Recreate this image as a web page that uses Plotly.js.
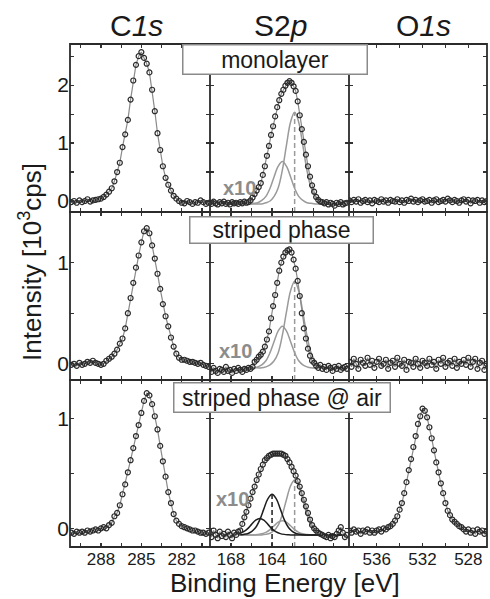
<!DOCTYPE html>
<html><head><meta charset="utf-8">
<script src="https://cdn.plot.ly/plotly-3.0.1.min.js"></script>
<style>html,body{margin:0;padding:0;background:#fff;}#chart{width:490px;height:599px;}</style>
</head><body><div id="chart"></div>
<script>
// ---------- DATA ----------
const c1sEnergy = [290.2,290.0,289.8,289.6,289.4,289.2,289.0,288.8,288.6,288.4,
  288.2,288.0,287.8,287.6,287.4,287.2,287.0,286.8,286.6,286.4,
  286.2,286.0,285.8,285.6,285.4,285.2,285.0,284.8,284.6,284.4,
  284.2,284.0,283.8,283.6,283.4,283.2,283.0,282.8,282.6,282.4,
  282.2,282.0,281.8,281.6,281.4,281.2,281.0,280.8,280.6,280.4,
  280.2,280.0];
const s2pEnergy = [170.1,169.9,169.7,169.5,169.3,169.1,168.9,168.7,168.5,168.3,
  168.1,167.9,167.7,167.5,167.3,167.1,166.9,166.7,166.5,166.3,
  166.1,165.9,165.7,165.5,165.3,165.1,164.9,164.7,164.5,164.3,
  164.1,163.9,163.7,163.5,163.3,163.1,162.9,162.7,162.5,162.3,
  162.1,161.9,161.7,161.5,161.3,161.1,160.9,160.7,160.5,160.3,
  160.1,159.9,159.7,159.5,159.3,159.1,158.9,158.7,158.5,158.3,
  158.1,157.9,157.7,157.5,157.3,157.1,156.9,156.7];
const o1sEnergy = [538.4,538.2,538.0,537.8,537.6,537.4,537.2,537.0,536.8,536.6,
  536.4,536.2,536.0,535.8,535.6,535.4,535.2,535.0,534.8,534.6,
  534.4,534.2,534.0,533.8,533.6,533.4,533.2,533.0,532.8,532.6,
  532.4,532.2,532.0,531.8,531.6,531.4,531.2,531.0,530.8,530.6,
  530.4,530.2,530.0,529.8,529.6,529.4,529.2,529.0,528.8,528.6,
  528.4,528.2,528.0,527.8,527.6,527.4,527.2,527.0,526.8,526.6,
  526.4];

// C1s intensities [10^3 cps]
const c1sMonolayer = [-0.02,0.00,-0.03,0.01,-0.02,0.00,0.03,-0.01,0.01,0.02,
  0.03,0.04,0.07,0.11,0.16,0.22,0.34,0.50,0.66,0.93,
  1.15,1.40,1.75,2.08,2.35,2.50,2.57,2.47,2.37,2.22,
  1.92,1.55,1.17,0.88,0.60,0.40,0.28,0.18,0.09,0.04,
  0.00,-0.03,-0.04,0.00,-0.02,-0.05,-0.02,-0.03,0.01,-0.02,
  -0.05,-0.03];
const c1sStriped = [-0.01,0.00,-0.02,0.01,-0.01,0.00,0.02,0.01,0.03,0.01,
  0.00,-0.01,0.00,0.03,0.05,0.07,0.10,0.14,0.20,0.25,
  0.35,0.50,0.65,0.80,0.95,1.07,1.20,1.31,1.34,1.29,
  1.17,1.04,0.89,0.74,0.59,0.47,0.37,0.26,0.17,0.10,
  0.06,0.04,0.04,0.03,0.02,0.02,0.01,0.00,0.01,-0.01,
  -0.02,-0.03];
const c1sAir = [-0.04,-0.05,-0.03,-0.04,-0.03,-0.04,-0.02,-0.03,-0.02,-0.01,
  -0.02,0.00,0.01,0.00,0.03,0.05,0.11,0.14,0.21,0.31,
  0.40,0.51,0.62,0.73,0.84,0.94,1.05,1.16,1.23,1.21,
  1.13,1.02,0.90,0.75,0.61,0.47,0.33,0.23,0.13,0.07,
  0.04,0.02,0.01,0.00,-0.01,-0.02,-0.02,-0.03,-0.04,-0.04,
  -0.05,-0.04];

// S2p intensities (shown x10)
const s2pMonolayer = [-0.03,-0.05,-0.01,-0.04,-0.06,-0.02,-0.04,-0.01,-0.05,-0.03,
  -0.06,-0.02,-0.04,-0.03,-0.05,-0.02,-0.04,-0.01,-0.03,-0.02,
  0.01,0.06,0.12,0.18,0.24,0.31,0.45,0.60,0.78,0.95,
  1.14,1.29,1.46,1.62,1.74,1.85,1.92,1.99,2.04,2.07,
  2.04,1.98,1.90,1.72,1.48,1.24,1.02,0.80,0.60,0.42,
  0.27,0.16,0.07,0.02,-0.01,-0.02,-0.04,-0.02,-0.06,-0.03,
  -0.05,-0.08,-0.03,-0.05,-0.02,-0.06,-0.04,-0.03];
const s2pStriped = [-0.05,-0.08,-0.04,-0.07,-0.09,-0.05,-0.06,-0.08,-0.03,-0.07,
  -0.06,-0.09,-0.05,-0.07,-0.04,-0.06,-0.08,-0.05,-0.06,-0.04,
  -0.05,-0.03,0.02,0.04,0.07,0.09,0.12,0.17,0.24,0.32,
  0.45,0.57,0.68,0.80,0.92,1.00,1.06,1.10,1.12,1.13,
  1.10,1.03,0.94,0.82,0.67,0.50,0.35,0.25,0.15,0.08,
  0.03,0.01,-0.02,-0.04,-0.01,-0.05,-0.03,-0.06,-0.02,-0.04,
  -0.07,-0.03,-0.05,-0.02,-0.06,-0.04,-0.03,-0.05];
const s2pAir = [-0.04,-0.08,-0.02,-0.06,-0.09,-0.03,-0.07,-0.05,-0.08,-0.03,
  -0.06,-0.09,-0.04,-0.06,-0.03,-0.02,0.04,0.10,0.15,0.21,
  0.27,0.33,0.38,0.44,0.49,0.54,0.58,0.62,0.64,0.66,
  0.67,0.68,0.68,0.68,0.68,0.68,0.67,0.66,0.63,0.60,
  0.56,0.52,0.48,0.43,0.38,0.32,0.26,0.20,0.14,0.08,
  0.03,0.00,-0.02,-0.04,-0.05,-0.06,-0.07,-0.08,-0.06,-0.09,
  -0.07,-0.08,-0.05,-0.02,0.01,-0.04,-0.08,-0.06];

// O1s intensities
const o1sMonolayer = [0.01,-0.02,0.02,-0.01,0.03,-0.03,0.00,0.02,-0.02,0.01,
  -0.04,0.02,0.00,-0.02,0.03,-0.01,0.01,-0.03,0.02,0.00,
  -0.01,0.03,-0.02,0.01,-0.03,0.02,0.00,0.04,-0.01,0.02,
  -0.02,0.01,0.03,-0.01,0.00,0.02,-0.03,0.01,0.03,-0.02,
  0.00,0.02,-0.01,0.04,0.01,-0.02,0.02,0.00,-0.03,0.01,
  0.03,-0.01,0.02,-0.04,0.01,0.00,0.02,-0.03,0.01,-0.02,
  0.00];
const o1sStriped = [0.02,-0.03,0.05,0.00,-0.05,0.04,0.01,-0.02,0.06,-0.01,
  0.03,-0.04,0.02,0.05,-0.02,0.00,0.04,-0.05,0.01,0.03,
  -0.03,0.06,0.00,-0.02,0.04,-0.06,0.02,0.01,-0.03,0.05,
  0.00,-0.04,0.03,0.01,-0.02,0.05,-0.01,0.02,-0.05,0.04,
  0.00,0.06,-0.03,0.01,0.03,-0.02,0.05,-0.04,0.02,0.00,
  0.04,-0.01,0.06,-0.03,0.02,0.05,-0.05,0.01,0.03,-0.06,
  0.00];
const o1sAir = [-0.02,-0.04,-0.01,-0.03,-0.02,-0.05,-0.02,-0.03,-0.01,-0.04,
  -0.02,-0.04,-0.02,-0.01,-0.03,0.00,-0.01,0.01,0.02,0.04,
  0.07,0.11,0.17,0.23,0.32,0.42,0.53,0.63,0.74,0.84,
  0.95,1.02,1.09,1.07,1.01,0.92,0.82,0.71,0.60,0.51,
  0.41,0.32,0.23,0.16,0.12,0.08,0.06,0.04,0.02,0.01,
  -0.01,-0.03,-0.01,-0.04,-0.02,-0.05,-0.01,-0.03,-0.02,-0.05,
  -0.03];

// S2p fit components
const compEnergyA = [167.0,166.6,166.2,165.8,165.4,165.0,164.6,164.2,163.8,163.4,
  163.0,162.6,162.2,161.8,161.4,161.0,160.6,160.2,159.8,159.4,
  159.0,158.6,158.2,157.8,157.4,157.0];
const compEnergyB = [167.2,166.8,166.4,166.0,165.6,165.2,164.8,164.4,164.0,163.6,
  163.2,162.8,162.4,162.0,161.6,161.2,160.8,160.4,160.0,159.6,
  159.2,158.8,158.4,158.0,157.6,157.2];
const monoS32 = [-0.05,-0.05,-0.05,-0.05,-0.05,-0.05,-0.03,0.00,0.08,0.23,
  0.53,0.96,1.36,1.53,1.36,0.96,0.53,0.23,0.08,0.00,
  -0.03,-0.05,-0.05,-0.05,-0.05,-0.05];
const monoS12 = [-0.05,-0.05,-0.05,-0.04,-0.03,0.01,0.08,0.22,0.42,0.60,
  0.68,0.60,0.42,0.22,0.08,0.01,-0.03,-0.04,-0.05,-0.05,
  -0.05,-0.05,-0.05,-0.05,-0.05,-0.05];
const stripedS32 = [-0.04,-0.04,-0.04,-0.04,-0.04,-0.04,-0.03,-0.01,0.03,0.11,
  0.28,0.51,0.72,0.815,0.72,0.51,0.28,0.11,0.03,-0.01,
  -0.03,-0.04,-0.04,-0.04,-0.04,-0.04];
const stripedS12 = [-0.04,-0.04,-0.04,-0.04,-0.03,-0.01,0.03,0.11,0.22,0.325,
  0.37,0.325,0.22,0.11,0.03,-0.01,-0.03,-0.04,-0.04,-0.04,
  -0.04,-0.04,-0.04,-0.04,-0.04,-0.04];
const airGrayS32 = [-0.06,-0.06,-0.06,-0.06,-0.06,-0.06,-0.055,-0.045,-0.02,0.03,
  0.125,0.26,0.385,0.44,0.385,0.26,0.125,0.03,-0.02,-0.045,
  -0.055,-0.06,-0.06,-0.06,-0.06,-0.06];
const airGrayS12 = [-0.06,-0.06,-0.06,-0.06,-0.056,-0.05,-0.037,-0.012,0.023,0.056,
  0.07,0.056,0.023,-0.012,-0.037,-0.05,-0.056,-0.06,-0.06,-0.06,
  -0.06,-0.06,-0.06,-0.06,-0.06,-0.06];
const airBlackS32 = [-0.06,-0.056,-0.049,-0.03,0.007,0.077,0.177,0.27,0.31,0.27,
  0.177,0.077,0.007,-0.03,-0.049,-0.056,-0.06,-0.06,-0.06,-0.06,
  -0.06,-0.06,-0.06,-0.06,-0.06,-0.06];
const airBlackS12 = [-0.048,-0.033,-0.005,0.036,0.074,0.09,0.074,0.036,-0.005,-0.033,
  -0.048,-0.055,-0.058,-0.06,-0.06,-0.06,-0.06,-0.06,-0.06,-0.06,
  -0.06,-0.06,-0.06,-0.06,-0.06,-0.06];

// Labels and ticks
const columnTitles = ['C<i>1s</i>', 'S2<i>p</i>', 'O<i>1s</i>'];
const rowLabels = ['monolayer', 'striped phase', 'striped phase @ air'];
const scaleLabel = 'x10';
const c1sTickVals = [288, 285, 282];
const c1sMinorVals = [286.5, 283.5, 280.5, 289.5];
const s2pTickVals = [168, 164, 160];
const s2pMinorVals = [170, 166, 162, 158];
const o1sTickVals = [536, 532, 528];
const o1sMinorVals = [538, 534, 530];
const yTickVals = [0, 1, 2];
const yMinorVals = [0.5, 1.5, 2.5];
const xTitle = 'Binding Energy [eV]';
const yTitle = 'Intensity [10<sup>3</sup>cps]';

// ---------- LAYOUT ----------
const W = 490, H = 599;
const FONT = '"Liberation Sans", Arial, Helvetica, sans-serif';
const fx = p => p / W;
const fy = p => 1 - p / H;
const colPx = [[70, 210], [210, 349], [349, 487]];
const rowPx = [[44, 212], [212, 380], [380, 547]];
const xRanges = [[290.3, 279.9], [170.05, 156.5], [538.42, 526.37]];
const yRanges = [[-0.19, 2.71], [-0.16, 1.5], [-0.17, 1.35]];
const xTicks = [[c1sTickVals, c1sMinorVals], [s2pTickVals, s2pMinorVals], [o1sTickVals, o1sMinorVals]];
const energies = [c1sEnergy, s2pEnergy, o1sEnergy];
const spectra = [
  [c1sMonolayer, s2pMonolayer, o1sMonolayer],
  [c1sStriped, s2pStriped, o1sStriped],
  [c1sAir, s2pAir, o1sAir]
];

const GRAY = '#9a9a9a', DARK = '#1e1e1e', FRAME = '#2b2b2b';
const traces = [];
const layout = {
  width: W, height: H, margin: {l: 0, r: 0, t: 0, b: 0},
  paper_bgcolor: '#fff', plot_bgcolor: '#fff', showlegend: false,
  font: {family: FONT, color: '#1a1a1a'},
  annotations: [], shapes: []
};

function axName(r, c) { return 3 * r + c + 1; }
function sfx(k) { return k === 1 ? '' : String(k); }

for (let r = 0; r < 3; r++) {
  for (let c = 0; c < 3; c++) {
    const k = axName(r, c);
    layout['xaxis' + sfx(k)] = {
      domain: [fx(colPx[c][0]), fx(colPx[c][1])], anchor: 'y' + sfx(k),
      range: xRanges[c], autorange: false, fixedrange: true,
      tickmode: 'array', tickvals: xTicks[c][0],
      ticks: 'inside', ticklen: 4, tickwidth: 1.2, tickcolor: '#333',
      minor: {tickmode: 'array', tickvals: xTicks[c][1], ticks: 'inside', ticklen: 4, tickwidth: 1.2, tickcolor: '#333', showgrid: false},
      showticklabels: r === 2, tickfont: {size: 17, family: FONT, color: '#1a1a1a'},
      showline: false, mirror: 'ticks',
      showgrid: false, zeroline: false
    };
    layout['yaxis' + sfx(k)] = {
      domain: [fy(rowPx[r][1]), fy(rowPx[r][0])], anchor: 'x' + sfx(k),
      range: yRanges[r], autorange: false, fixedrange: true,
      tickmode: 'array', tickvals: yTickVals,
      ticks: 'inside', ticklen: 4, tickwidth: 1.2, tickcolor: '#333',
      minor: {tickmode: 'array', tickvals: yMinorVals, ticks: 'inside', ticklen: 4, tickwidth: 1.2, tickcolor: '#333', showgrid: false},
      showticklabels: c === 0, tickfont: {size: 21, family: FONT, color: '#1a1a1a'},
      showline: false, mirror: 'ticks',
      showgrid: false, zeroline: false
    };
  }
}

// panel frames
rowPx.forEach(rp => layout.shapes.push({
  type: 'rect', xref: 'paper', yref: 'paper', layer: 'above',
  x0: fx(colPx[0][0]), x1: fx(colPx[2][1]), y0: fy(rp[1]), y1: fy(rp[0]),
  line: {color: FRAME, width: 1.8}
}));
[colPx[1][0], colPx[2][0]].forEach(xp => layout.shapes.push({
  type: 'line', xref: 'paper', yref: 'paper', layer: 'above',
  x0: fx(xp), x1: fx(xp), y0: fy(rowPx[2][1]), y1: fy(rowPx[0][0]),
  line: {color: FRAME, width: 1.8}
}));

function addLine(r, c, xs, ys, color, dash) {
  const k = axName(r, c);
  traces.push({
    x: xs, y: ys, type: 'scatter', mode: 'lines',
    xaxis: 'x' + sfx(k), yaxis: 'y' + sfx(k),
    line: {color: color, width: 1.5, shape: dash ? 'linear' : 'spline', dash: dash || 'solid'},
    hoverinfo: 'skip'
  });
}
function peakOf(xs, ys) {
  let i = 0;
  ys.forEach((v, j) => { if (v > ys[i]) i = j; });
  return [xs[i], ys[i]];
}
function addDrop(r, c, xs, ys, color) {
  const p = peakOf(xs, ys);
  addLine(r, c, [p[0], p[0]], [yRanges[r][0], p[1]], color, '5px,3px');
}

// S2p components
addLine(0, 1, compEnergyA, monoS32, GRAY);
addLine(0, 1, compEnergyA, monoS12, GRAY);
addDrop(0, 1, compEnergyA, monoS32, GRAY);
addLine(1, 1, compEnergyA, stripedS32, GRAY);
addLine(1, 1, compEnergyA, stripedS12, GRAY);
addDrop(1, 1, compEnergyA, stripedS32, GRAY);
addLine(2, 1, compEnergyA, airGrayS32, GRAY);
addLine(2, 1, compEnergyA, airGrayS12, GRAY);
addDrop(2, 1, compEnergyA, airGrayS32, GRAY);
addLine(2, 1, compEnergyB, airBlackS32, DARK);
addLine(2, 1, compEnergyB, airBlackS12, DARK);
addDrop(2, 1, compEnergyB, airBlackS32, DARK);

// measured spectra with fit line
for (let r = 0; r < 3; r++) {
  for (let c = 0; c < 3; c++) {
    const k = axName(r, c);
    traces.push({
      x: energies[c], y: spectra[r][c], type: 'scatter', mode: 'lines+markers',
      xaxis: 'x' + sfx(k), yaxis: 'y' + sfx(k),
      line: {color: '#8a8a8a', width: 1.2},
      marker: {symbol: 'circle-open', size: 5, color: '#2a2a2a', line: {width: 1.2, color: '#2a2a2a'}},
      hoverinfo: 'skip'
    });
  }
}

// annotations
const titleX = [136, 280, 423];
columnTitles.forEach((t, i) => layout.annotations.push({
  text: t, xref: 'paper', yref: 'paper', x: fx(titleX[i]), y: fy(25),
  xanchor: 'center', yanchor: 'middle', showarrow: false,
  font: {size: 30, family: FONT, color: '#1a1a1a'}
}));
const boxes = [[274.5, 59, 183, 28], [281, 230, 182, 25], [281.5, 397, 215, 28]];
rowLabels.forEach((t, i) => layout.annotations.push({
  text: t, xref: 'paper', yref: 'paper', x: fx(boxes[i][0]), y: fy(boxes[i][1]),
  xanchor: 'center', yanchor: 'middle', showarrow: false,
  width: boxes[i][2], height: boxes[i][3], borderpad: 0,
  bgcolor: '#fff', bordercolor: '#8a8a8a', borderwidth: 1.5,
  font: {size: 23, family: FONT, color: '#1a1a1a'}
}));
const x10Pos = [[239, 187.5], [235, 351], [232, 499]];
x10Pos.forEach(p => layout.annotations.push({
  text: '<b>' + scaleLabel + '</b>', xref: 'paper', yref: 'paper', x: fx(p[0]), y: fy(p[1]),
  xanchor: 'center', yanchor: 'middle', showarrow: false,
  font: {size: 20, family: FONT, color: '#8c8c8c'}
}));
layout.annotations.push({
  text: xTitle, xref: 'paper', yref: 'paper', x: fx(285), y: fy(583),
  xanchor: 'center', yanchor: 'middle', showarrow: false,
  font: {size: 26, family: FONT, color: '#1a1a1a'}
});
layout.annotations.push({
  text: yTitle, xref: 'paper', yref: 'paper', x: fx(30), y: fy(262),
  xanchor: 'center', yanchor: 'middle', showarrow: false, textangle: -90,
  font: {size: 26, family: FONT, color: '#1a1a1a'}
});

Plotly.newPlot('chart', traces, layout, {staticPlot: true, displayModeBar: false});
</script></body></html>
